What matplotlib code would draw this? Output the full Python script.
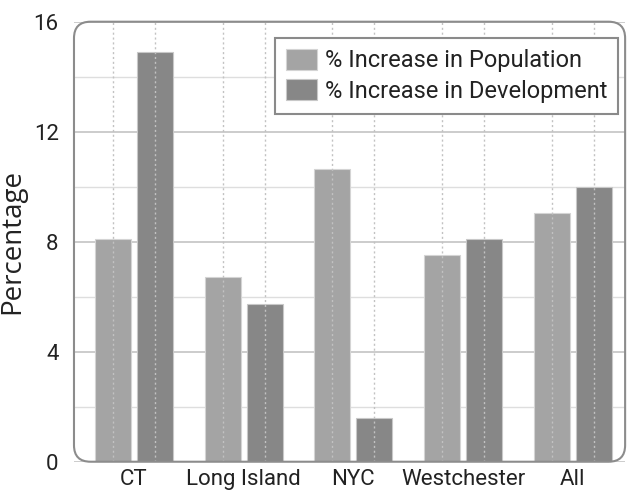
import matplotlib
matplotlib.use("Agg")
import matplotlib.pyplot as plt
import numpy as np
from matplotlib.patches import FancyBboxPatch
from matplotlib.ticker import MultipleLocator

categories = ["CT", "Long Island", "NYC", "Westchester", "All"]
population_increase = [8.1, 6.7, 10.65, 7.5, 9.05]
development_increase = [14.9, 5.75, 1.6, 8.1, 10.0]
series_labels = ["% Increase in Population", "% Increase in Development"]
y_ticks = [0, 4, 8, 12, 16]

pop_color = "#a4a4a4"
dev_color = "#878787"
tick_font = "Roboto"
label_font = "Open Sans"

fig = plt.figure(figsize=(6.27, 4.99), dpi=100)
ax = fig.add_axes([0.118, 0.0747, 0.879, 0.8818])

x = np.arange(len(categories))
width = 0.328
offset = 0.192

ax.bar(x - offset, population_increase, width, color=pop_color,
       edgecolor="#d4d4d4", linewidth=0.8, zorder=2, label=series_labels[0])
ax.bar(x + offset, development_increase, width, color=dev_color,
       edgecolor="#c8c8c8", linewidth=0.8, zorder=2, label=series_labels[1])

# dotted guides through every bar centre
for xc in np.concatenate([x - offset, x + offset]):
    ax.axvline(xc, color="#c2c2c2", linestyle=(0, (1.5, 2)), linewidth=1.0, zorder=3)

ax.set_xlim(-0.545, 4.475)
ax.set_ylim(0, 16)
ax.yaxis.set_major_locator(MultipleLocator(4))
ax.yaxis.set_minor_locator(MultipleLocator(2))
ax.set_yticks(y_ticks)
ax.grid(axis="y", which="major", color="#c4c4c4", linewidth=1.2, zorder=1)
ax.grid(axis="y", which="minor", color="#dedede", linewidth=1.0, zorder=1)
ax.set_axisbelow(True)

ax.set_xticks(x)
ax.set_xticklabels(categories, fontfamily=tick_font, fontsize=16, color="#222222")
for lbl in ax.get_yticklabels():
    lbl.set_fontfamily(tick_font)
    lbl.set_fontsize(16)
    lbl.set_color("#222222")
ax.tick_params(axis="both", which="both", length=0)
ax.tick_params(axis="y", pad=11)
ax.tick_params(axis="x", pad=5)

ax.set_ylabel("Percentage", fontfamily=label_font, fontsize=20, color="#222222", labelpad=5)

for s in ax.spines.values():
    s.set_visible(False)

# rounded frame around the plotting area
bbox = ax.get_window_extent()
aspect = bbox.width / bbox.height
frame = FancyBboxPatch((0, 0), 1, 1, boxstyle="round,pad=0,rounding_size=0.03",
                       mutation_aspect=aspect, transform=ax.transAxes,
                       facecolor="none", edgecolor="#8c8c8c", linewidth=1.5,
                       clip_on=False, zorder=5)
ax.add_patch(frame)

leg = ax.legend(loc="upper right", bbox_to_anchor=(618 / 627, 1 - 38 / 499),
                bbox_transform=fig.transFigure, fancybox=False, framealpha=1,
                edgecolor="#8a8a8a", prop={"family": tick_font, "size": 17},
                handlelength=1.3, handleheight=1.0, handletextpad=0.35,
                borderpad=0.45, labelspacing=0.3, borderaxespad=0)
leg.get_frame().set_linewidth(1.5)
leg.set_zorder(6)
for t in leg.get_texts():
    t.set_color("#222222")

fig.savefig("out.png", dpi=100, facecolor="white")
